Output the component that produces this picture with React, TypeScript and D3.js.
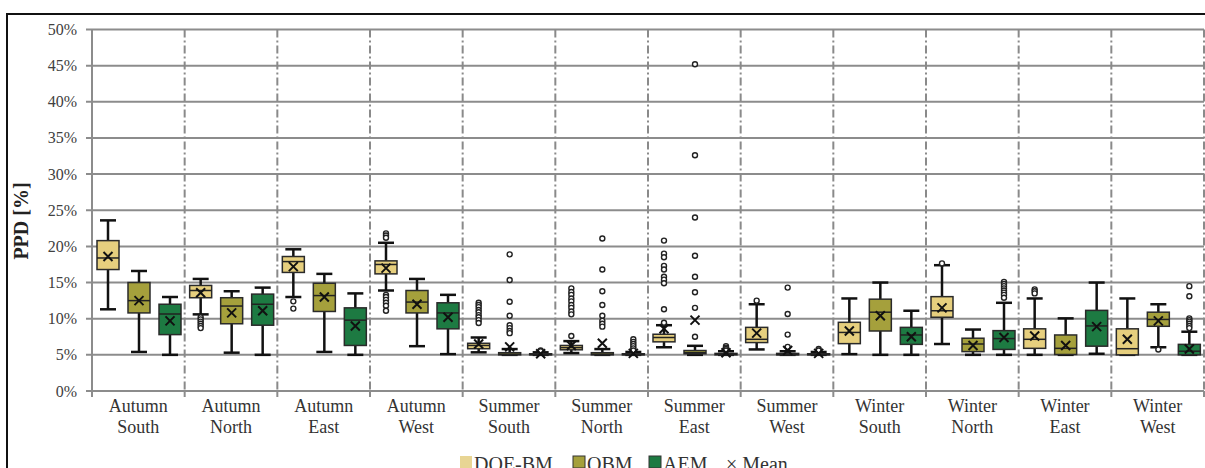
import React from "react";
import * as d3 from "d3";

const seasons = ["Autumn","Autumn","Autumn","Autumn","Summer","Summer","Summer","Summer","Winter","Winter","Winter","Winter"];
const orientations = ["South","North","East","West","South","North","East","West","South","North","East","West"];
const seriesNames = ["DOE-BM","OBM","AEM"];
const yTicks = [0,5,10,15,20,25,30,35,40,45,50];

// [lowerWhisker, q1, median, q3, upperWhisker, mean] in %
const doeStats = [
  [11.3,16.8,18.4,20.8,23.6,18.6],
  [10.6,12.9,13.9,14.6,15.5,13.6],
  [13.0,16.4,17.9,18.6,19.6,17.2],
  [13.9,16.2,17.5,18.0,20.5,17.0],
  [5.35,5.85,6.3,6.6,7.4,6.5],
  [5.25,5.7,6.0,6.3,6.9,6.3],
  [6.05,6.8,7.4,7.85,9.1,8.6],
  [5.75,6.7,7.15,8.8,12.0,8.0],
  [5.1,6.55,8.1,9.5,12.8,8.3],
  [6.5,10.2,11.1,13.05,17.4,11.5],
  [5.0,5.9,7.15,8.6,12.8,7.6],
  [5.0,5.0,5.85,8.6,12.8,7.15],
];
const doeOutliers = [
  [],
  [10.2,9.9,9.6,9.3,9.0,8.7],
  [12.4,11.4],
  [21.8,21.5,21.2,13.3,13.0,12.6,12.2,11.8,11.1],
  [12.2,11.9,11.6,11.2,10.9,10.5,10.2,9.8,9.4],
  [14.2,13.7,13.3,12.8,12.4,11.9,11.5,11.0,10.6,7.6],
  [20.8,19.0,18.5,17.3,16.8,15.8,15.4,14.9,11.3,9.45],
  [12.5],
  [],
  [17.65],
  [14.05,13.8,13.5],
  [],
];
const obmStats = [
  [5.4,10.8,12.5,15.0,16.6,12.5],
  [5.3,9.3,11.75,12.9,13.8,10.8],
  [5.4,11.0,13.2,14.9,16.2,13.0],
  [6.2,10.8,12.3,13.9,15.5,12.0],
  [5.0,5.0,5.1,5.3,5.8,6.1],
  [5.0,5.0,5.1,5.3,5.8,6.6],
  [5.0,5.15,5.3,5.6,6.25,9.8],
  [5.0,5.0,5.05,5.2,5.5,5.6],
  [5.0,8.3,10.9,12.7,15.0,10.4],
  [5.0,5.45,6.5,7.3,8.5,6.3],
  [5.0,5.05,5.9,7.75,10.05,6.3],
  [6.05,8.95,9.9,10.9,12.0,9.7],
];
const obmOutliers = [
  [],[],[],[],
  [18.9,15.35,12.35,10.4,9.1,8.7,8.3,8.0],
  [21.1,16.8,13.8,11.9,10.4,9.7,9.3,8.9],
  [45.2,32.6,24.0,18.7,15.8,13.65,11.5,7.5],
  [14.3,10.65,7.8,6.1],
  [],[],[],
  [5.75],
];
const aemStats = [
  [5.0,7.8,10.65,12.0,13.0,9.7],
  [5.0,9.1,12.0,13.4,14.3,11.1],
  [5.0,6.3,9.8,11.5,13.5,9.0],
  [5.1,8.6,10.8,12.2,13.3,10.2],
  [5.0,5.0,5.05,5.15,5.35,5.15],
  [5.0,5.0,5.05,5.15,5.4,5.2],
  [5.0,5.0,5.1,5.2,5.5,5.3],
  [5.0,5.0,5.05,5.15,5.4,5.2],
  [5.0,6.45,7.75,8.8,11.1,7.5],
  [5.0,5.75,7.25,8.35,12.2,7.4],
  [5.15,6.2,9.0,11.15,15.0,8.9],
  [5.0,5.0,5.5,6.45,8.2,5.8],
];
const aemOutliers = [
  [],[],[],[],
  [5.6,5.5],
  [7.15,6.8,6.5,6.2,5.9,5.6],
  [6.2,6.0,5.8,5.6],
  [5.8,5.6],
  [],
  [15.1,14.8,14.5,14.2,13.9,13.6,13.3,12.9],
  [],
  [14.5,13.1,10.05,9.8,9.6,9.3,9.0,8.7],
];

const seriesStats = [doeStats, obmStats, aemStats];
const seriesOutliers = [doeOutliers, obmOutliers, aemOutliers];
const fills = ["#e6cf7e", "#a5a03c", "#1d7a42"];
const legendFills = ["#e8d594", "#a5a03c", "#1d7a42"];

const W = 1205, H = 468;
const L = 92, R = 1204, T = 29.5, B = 391;
const serif = "'Liberation Serif', 'DejaVu Serif', serif";

export default function App() {
  const groups = d3.range(seasons.length);
  const x = d3.scaleBand<number>().domain(groups).range([L, R]).padding(0);
  const inner = d3.scalePoint<string>().domain(seriesNames).range([16, 78]);
  const y = d3.scaleLinear().domain([0, 50]).range([B, T]);
  const bw = 22, cap = 8;
  const grid = "#8c8c8c";

  return (
    <svg width={W} height={H} style={{ position: "absolute", left: 0, top: 0, display: "block", background: "#fff" }}>
      <rect x={7} y={14} width={1210} height={500} fill="#fff" stroke="#111" strokeWidth={2} />
      {/* gridlines */}
      {yTicks.map((t) => (
        <g key={t}>
          <line x1={86} x2={R} y1={y(t)} y2={y(t)} stroke={grid} strokeWidth={2} />
          <text x={77} y={y(t) + 5.5} textAnchor="end" fontFamily={serif} fontSize={16} fill="#404040">{t}%</text>
        </g>
      ))}
      {/* y axis */}
      <line x1={L} x2={L} y1={T} y2={B + 6} stroke={grid} strokeWidth={2} />
      {/* separators */}
      {groups.map((g) => {
        const xs = (x(g) as number) + x.bandwidth();
        return (
          <g key={g}>
            <line x1={xs} x2={xs} y1={T} y2={B} stroke="#8a8a8a" strokeWidth={2} strokeDasharray="8,3,2,3" />
            <line x1={xs} x2={xs} y1={B} y2={B + 6} stroke={grid} strokeWidth={2} />
          </g>
        );
      })}
      {/* category labels */}
      {groups.map((g) => {
        const cx = (x(g) as number) + x.bandwidth() / 2;
        return (
          <text key={g} textAnchor="middle" fontFamily={serif} fontSize={18} fill="#333">
            <tspan x={cx} y={412}>{seasons[g]}</tspan>
            <tspan x={cx} y={433}>{orientations[g]}</tspan>
          </text>
        );
      })}
      {/* boxes */}
      {groups.map((g) =>
        seriesNames.map((s, si) => {
          const [lo, q1, med, q3, hi, mean] = seriesStats[si][g];
          const cx = (x(g) as number) + (inner(s) as number);
          const outs = seriesOutliers[si][g];
          return (
            <g key={g + "-" + s}>
              <line x1={cx} x2={cx} y1={y(hi)} y2={y(q3)} stroke="#111" strokeWidth={2.5} />
              <line x1={cx} x2={cx} y1={y(q1)} y2={y(lo)} stroke="#111" strokeWidth={2.5} />
              <line x1={cx - cap} x2={cx + cap} y1={y(hi)} y2={y(hi)} stroke="#111" strokeWidth={2.5} />
              <line x1={cx - cap} x2={cx + cap} y1={y(lo)} y2={y(lo)} stroke="#111" strokeWidth={2.5} />
              <rect x={cx - bw / 2} y={y(q3)} width={bw} height={Math.max(1, y(q1) - y(q3))} fill={fills[si]} stroke="#2a2a2a" strokeWidth={1.5} />
              <line x1={cx - bw / 2} x2={cx + bw / 2} y1={y(med)} y2={y(med)} stroke="#222" strokeWidth={1.5} />
              {outs.map((o, i) => (
                <circle key={i} cx={cx} cy={y(o)} r={2.5} fill="#fff" stroke="#222" strokeWidth={1.4} />
              ))}
              <path d={`M${cx - 4.5},${y(mean) - 4.5}L${cx + 4.5},${y(mean) + 4.5}M${cx - 4.5},${y(mean) + 4.5}L${cx + 4.5},${y(mean) - 4.5}`} stroke="#111" strokeWidth={2} />
            </g>
          );
        })
      )}
      {/* y title */}
      <text transform="translate(28,221) rotate(-90)" textAnchor="middle" fontFamily={serif} fontSize={20} fontWeight="bold" fill="#222">PPD [%]</text>
      {/* legend */}
      {[460, 573, 649].map((lx, i) => (
        <g key={i}>
          <rect x={lx} y={456} width={12} height={12} fill={legendFills[i]} stroke={i === 0 ? "none" : "#333"} strokeWidth={1} />
          <text x={lx + 14} y={471} fontFamily={serif} fontSize={20} fill="#333">{seriesNames[i]}</text>
        </g>
      ))}
      <text x={726} y={471} fontFamily={serif} fontSize={20} fill="#333">× Mean</text>
    </svg>
  );
}
